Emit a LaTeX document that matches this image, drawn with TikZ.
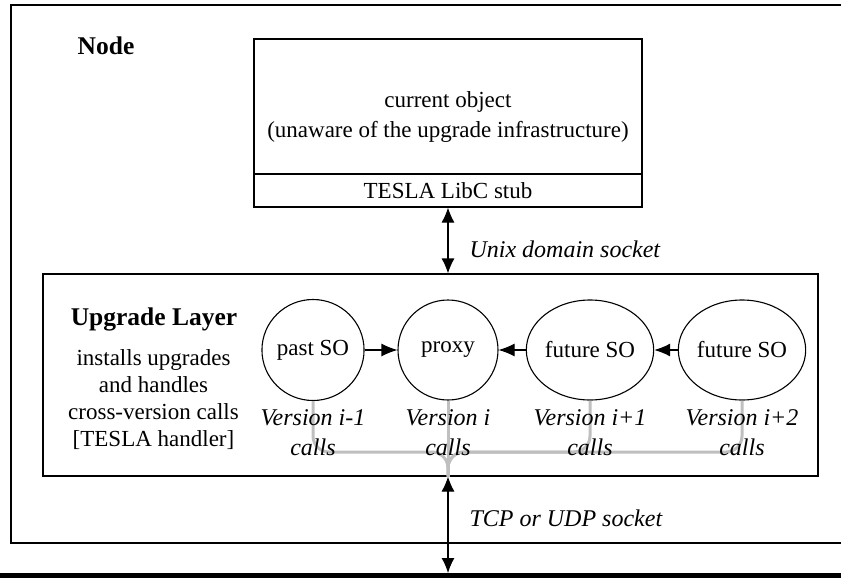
\documentclass[tikz,border=0pt]{standalone}
\usepackage{fontspec}
\setmainfont{Liberation Serif}
\usetikzlibrary{arrows.meta,shapes.geometric}

\begin{document}
\begin{tikzpicture}[x=1pt,y=-1pt,
	every node/.style={font=\fontsize{23}{30}\selectfont},
	box/.style={draw,line width=1.1pt,inner sep=0pt},
	so/.style={draw,line width=1.1pt,ellipse,minimum width=120pt,minimum height=100pt,inner sep=0pt},
	feed/.style={-{Latex[length=16pt,width=13pt]},line width=1.1pt},
	sock/.style={{Latex[length=15pt,width=13pt]}-{Latex[length=15pt,width=13pt]},line width=1.1pt},
	callwire/.style={draw=black!25,line width=3pt,rounded corners=16pt},
	ver/.style={align=center,font=\fontsize{24}{30}\selectfont\itshape},
	heading/.style={anchor=base,font=\fontsize{25.5}{30}\selectfont\bfseries}]
	\useasboundingbox (0,0) rectangle (841,578);
	
	\draw[line width=1.1pt] (11,5) rectangle (860,543);
	\node[heading] (nodetitle) at (106,55) {Node};
	
	\node[box,minimum width=388pt,minimum height=135pt] (obj) at (448,106.5) {};
	\node[align=center] (objtxt) at (448,117) {current object\\(unaware of the upgrade infrastructure)};
	\node[box,minimum width=388pt,minimum height=33pt] (stub) at (448,190.5) {TESLA LibC stub};
	
	\node[box,minimum width=775pt,minimum height=202pt] (layer) at (430.5,375) {};
	\node[heading] (layertitle) at (154,325) {Upgrade Layer};
	\node[align=center,font=\fontsize{23}{27}\selectfont] (layertxt) at (153.5,400) {installs upgrades\\and handles\\cross-version calls\\{[}TESLA handler{]}};
	
	\node[so,minimum width=101pt,minimum height=101pt] (past) at (313,350) {past SO};
	\node[so,minimum width=100pt] (proxy) at (448,350) {proxy};
	\node[so] (fut1) at (590,350) {future SO};
	\node[so] (fut2) at (742,350) {future SO};
	
	\draw[feed] (past) -- (proxy);
	\draw[feed] (fut1) -- (proxy);
	\draw[feed] (fut2) -- (fut1);
	
	\coordinate (join) at (448,452);
	\coordinate (net) at (448,573);
	\draw[callwire] (past.south) |- (join) -- (proxy.south |- layer.south);
	\draw[callwire] (proxy.south) -- (proxy.south |- layer.south);
	\draw[callwire] (fut1.south) |- (join) -- (proxy.south |- layer.south);
	\draw[callwire] (fut2.south) |- (join) -- (proxy.south |- layer.south);
	
	\node[ver] (pastver) at (313,433) {Version i-1\\calls};
	\node[ver] (proxyver) at (448,433) {Version i\\calls};
	\node[ver] (fut1ver) at (590,433) {Version i+1\\calls};
	\node[ver] (fut2ver) at (742,433) {Version i+2\\calls};
	
	\draw[sock] (stub.south) -- (layer.north -| stub.south);
	\node[ver,anchor=base west] (unixlbl) at (466,257) {Unix domain socket};
	
	\draw[sock] (proxy.south |- layer.south) -- (net);
	\node[ver,anchor=base west] (tcplbl) at (466,526) {TCP or UDP socket};
	
	\draw[line width=5pt] (0,575.5) -- (841,575.5);
\end{tikzpicture}
\end{document}
